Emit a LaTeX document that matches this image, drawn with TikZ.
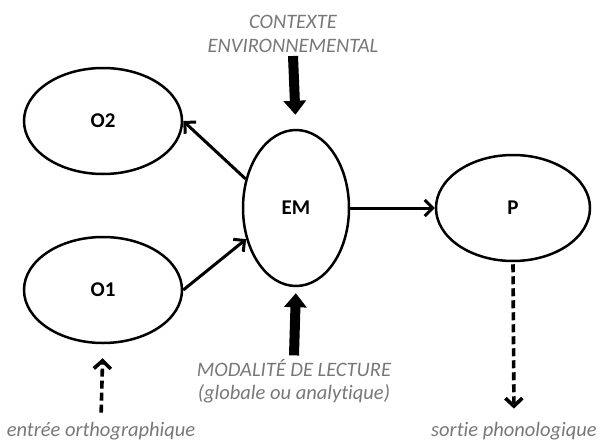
\documentclass[tikz,border=0pt]{standalone}
\usepackage{fontspec}
\setmainfont{Carlito}[RawFeature=-liga]
\usetikzlibrary{shapes.geometric,arrows.meta}
\definecolor{labelgray}{rgb}{0.47,0.47,0.47}

\begin{document}
\begin{tikzpicture}[x=1pt,y=-1pt,
    blob/.style={draw,ellipse,line width=2.5pt,inner sep=0pt,font=\fontsize{21}{24}\selectfont\bfseries},
    link/.style={line width=3pt,-{Straight Barb[length=8pt,width=16pt,line width=3pt]}},
    flow/.style={line width=3.6pt,dash pattern=on 8pt off 4pt,-{Straight Barb[length=8pt,width=17pt,line width=3.6pt]}},
    push/.style={line width=10pt,-{Triangle[length=14pt,width=22pt]}},
    info/.style={text=labelgray,font=\fontsize{20.5}{23.5}\selectfont\itshape,align=center}]
    \useasboundingbox (0,0) rectangle (600,442);

    \node[blob,minimum width=158pt,minimum height=106pt] (o2) at (103,121) {O2};
    \node[blob,minimum width=158pt,minimum height=106pt] (o1) at (103,290) {O1};
    \node[blob,minimum width=106pt,minimum height=156pt] (em) at (296,208) {EM};
    \node[blob,minimum width=154pt,minimum height=106pt] (p) at (513,208) {P};

    \node[info] (ctx) at (293,34) {CONTEXTE\\ENVIRONNEMENTAL};
    \node[info] (mod) at (294,381) {MODALITÉ DE LECTURE\\(globale ou analytique)};
    \node[info] (in) at (101,431) {entrée orthographique};
    \node[info] (out) at (514,431) {sortie phonologique};

    \draw[link] (em.150) -- (o2.east);
    \draw[link] (o1.east) -- (em.212);
    \draw[link] (em.east) -- (p.west);

    \draw[push,shorten >=14pt] (ctx.south) -- (em.north);
    \draw[push,shorten >=6pt] (mod.north) -- (em.south);

    \draw[flow,shorten <=6pt,shorten >=14pt] (in.north) -- (o1.south);
    \draw[flow,shorten <=2pt,shorten >=10pt] (p.south) -- (out.north);
\end{tikzpicture}
\end{document}
